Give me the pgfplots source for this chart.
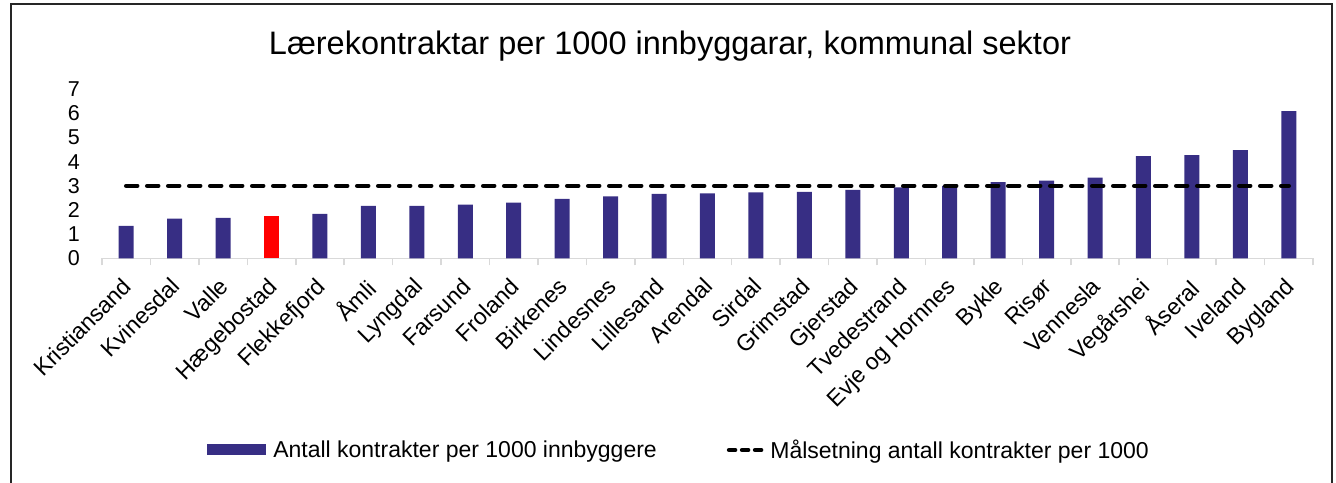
\documentclass[border=0pt]{standalone}
\usepackage{fontspec}
\setmainfont{Liberation Sans}
\usepackage{pgfplots}
\pgfplotsset{compat=1.18}
\definecolor{barblue}{RGB}{55,46,132}
\definecolor{gridgray}{RGB}{217,217,217}
\begin{document}
\begin{tikzpicture}[x=1pt,y=1pt]
\begin{axis}[
  at={(102pt,223.7pt)}, anchor=south west,
  scale only axis, width=1211pt, height=169pt,
  xmin=-0.5, xmax=24.5, ymin=0, ymax=7,
  ytick={0,1,...,7},
  xtick={0,1,...,24},
  minor xtick={-0.5,0.5,...,24.5},
  xticklabels={Kristiansand,Kvinesdal,Valle,Hægebostad,Flekkefjord,Åmli,Lyngdal,Farsund,Froland,Birkenes,Lindesnes,Lillesand,Arendal,Sirdal,Grimstad,Gjerstad,Tvedestrand,Evje og Hornnes,Bykle,Risør,Vennesla,Vegårshei,Åseral,Iveland,Bygland},
  /pgf/number format/assume math mode=true,
  axis y line=none,
  axis x line*=bottom,
  x axis line style={draw=gridgray, line width=1.5pt, -},
  ymajorgrids,
  grid style={draw=gridgray, line width=1.5pt},
  major tick length=0pt,
  minor tick length=7pt,
  tick align=outside,
  minor x tick style={draw=gridgray, line width=1.5pt},
  major x tick style={draw=none},
  x tick label style={rotate=45, anchor=north east, inner sep=0pt, font=\fontsize{23}{27}\selectfont, xshift=-16pt, yshift=-9pt},
  ybar, bar width=15pt,
  legend style={at={(0.4765,-1.134)}, anchor=center, draw=none, fill=none,
    legend columns=2, font=\fontsize{23}{27}\selectfont,
    /tikz/every odd column/.append style={column sep=5pt},
    /tikz/every even column/.append style={column sep=68pt}},
  clip=false,
]
\addplot[draw=none, fill=barblue, bar shift=0pt,
  legend image code/.code={\fill[barblue] (0pt,-5.5pt) rectangle (59pt,5.5pt);}]
  coordinates {(0,1.34) (1,1.64) (2,1.67) (4,1.84) (5,2.17) (6,2.17) (7,2.22) (8,2.31) (9,2.46) (10,2.57) (11,2.67) (12,2.69) (13,2.73) (14,2.75) (15,2.83) (16,2.94) (17,3.00) (18,3.16) (19,3.22) (20,3.34) (21,4.23) (22,4.27) (23,4.48) (24,6.10)};
\addlegendentry{Antall kontrakter per 1000 innbyggere}
\addplot[draw=none, fill=red, bar shift=0pt, forget plot]
  coordinates {(3,1.75)};
\addplot[sharp plot, black, line width=4.5pt, line cap=round, dash pattern=on 11pt off 10pt,
  legend image code/.code={\draw[black, line width=4.5pt, line cap=round, dash pattern=on 6pt off 7pt] (2pt,0pt) -- (34pt,0pt);}]
  coordinates {(0,3) (24,3)};
\addlegendentry{Målsetning antall kontrakter per 1000}
\end{axis}
\begin{axis}[
  at={(102pt,223.7pt)}, anchor=south west,
  scale only axis, width=1211pt, height=169pt,
  xmin=-0.5, xmax=24.5, ymin=0, ymax=7,
  ytick={0,1,...,7}, xtick=\empty,
  /pgf/number format/assume math mode=true,
  axis line style={draw=none}, major tick length=0pt,
  y tick label style={anchor=east, inner sep=0pt, xshift=-22pt, font=\fontsize{21.5}{25}\selectfont},
]
\end{axis}
\draw[line width=2pt, black!85] (11,-2) -- (11,478) -- (1332,478) -- (1332,-2);
\node[anchor=base, font=\fontsize{32.5}{38}\selectfont, inner sep=0pt] at (670,427) {Lærekontraktar per 1000 innbyggarar, kommunal sektor};
\pgfresetboundingbox
\useasboundingbox (0,0) rectangle (1336,482);
\end{tikzpicture}
\end{document}
